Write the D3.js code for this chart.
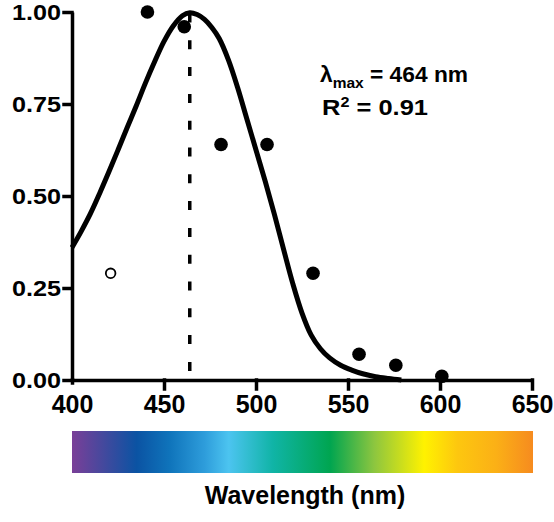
<!DOCTYPE html>
<html>
<head>
<meta charset="utf-8">
<script src="https://cdn.jsdelivr.net/npm/d3@7"></script>
<style>
  body { margin: 0; background: #fff; }
  text { font-family: "Liberation Sans", Arial, Helvetica, sans-serif; font-weight: bold; fill: #000; }
</style>
</head>
<body>
<svg id="chart" width="554" height="522"></svg>
<script>
// ---- data ----
const xTicks = [400, 450, 500, 550, 600, 650];
const yTicks = [0, 0.25, 0.5, 0.75, 1.0];
const yTickLabels = ["0.00", "0.25", "0.50", "0.75", "1.00"];

const pointWavelengths = [441, 461, 481, 506, 531, 556, 576, 601];
const pointValues      = [1.00, 0.96, 0.64, 0.64, 0.29, 0.07, 0.04, 0.01];

const openWavelengths = [421];
const openValues      = [0.29];

const fitWavelengths = [400, 405, 410, 415, 420, 425, 430, 435, 440, 445, 450, 455, 460, 464,
                        468, 472, 476, 480, 485, 490, 495, 500, 505, 510, 515, 520, 525,
                        530, 535, 540, 546, 552, 558, 565, 572, 579];
const fitValues      = [0.36, 0.404, 0.452, 0.507, 0.565, 0.625, 0.686, 0.746, 0.808, 0.866, 0.92, 0.962, 0.99, 0.998,
                        0.993, 0.98, 0.958, 0.928, 0.87, 0.795, 0.71, 0.625, 0.54, 0.45, 0.355, 0.262, 0.182,
                        0.122, 0.085, 0.06, 0.04, 0.027, 0.017, 0.009, 0.004, 0.0];

const lambdaMax = 464;
const rSquared = "0.91";

const spectrumStops  = [400, 435, 453, 472, 485, 509, 540, 564, 591, 609, 630, 650];
const spectrumColors = ["#7a3f98", "#0b53a3", "#0f74bb", "#2e9ddb", "#4cc4f0", "#10b4a6",
                        "#00a550", "#8dc63f", "#fff200", "#fdc70f", "#fbb016", "#f68b1f"];

const xLabel = "Wavelength (nm)";

// ---- chart ----
const svg = d3.select("#chart");
const x = d3.scaleLinear().domain([400, 650]).range([72, 532]);
const y = d3.scaleLinear().domain([0, 1]).range([380, 12]);

// y axis
const yAxis = svg.append("g")
  .attr("transform", `translate(${x(400)},0)`)
  .call(d3.axisLeft(y).tickValues(yTicks).tickFormat((d, i) => yTickLabels[i])
        .tickSize(8).tickSizeOuter(0).tickPadding(3));
yAxis.selectAll("text").attr("font-size", 22).attr("font-family", null)
  .attr("textLength", 49).attr("lengthAdjust", "spacingAndGlyphs");

// x axis
const xAxis = svg.append("g")
  .attr("transform", `translate(0,${y(0)})`)
  .call(d3.axisBottom(x).tickValues(xTicks).tickFormat(d3.format("d"))
        .tickSize(9).tickSizeOuter(0).tickPadding(6));
xAxis.selectAll("text").attr("font-size", 25).attr("font-family", null);
xAxis.selectAll(".tick line").filter(d => d === 400).attr("y2", 3);

svg.selectAll(".domain, .tick line")
  .attr("stroke", "#000").attr("stroke-width", 3.5).attr("stroke-linecap", "square");
svg.selectAll(".domain").attr("stroke-linecap", "butt");

// fitted curve
const fit = fitWavelengths.map((w, i) => [w, fitValues[i]]);
svg.append("path")
  .datum(fit)
  .attr("fill", "none")
  .attr("stroke", "#000")
  .attr("stroke-width", 5)
  .attr("d", d3.line().x(d => x(d[0])).y(d => y(d[1])).curve(d3.curveCatmullRom.alpha(0.5)));

// lambda max dashed line
svg.append("line")
  .attr("x1", x(lambdaMax)).attr("x2", x(lambdaMax))
  .attr("y1", y(1)).attr("y2", y(0))
  .attr("stroke", "#000").attr("stroke-width", 3.5)
  .attr("stroke-dasharray", "9,17.8").attr("stroke-dashoffset", -1.5);

// filled points
svg.append("g").selectAll("circle")
  .data(pointWavelengths.map((w, i) => [w, pointValues[i]]))
  .join("circle")
  .attr("cx", d => x(d[0])).attr("cy", d => y(d[1]))
  .attr("r", 6.8).attr("fill", "#000");

// open points
svg.append("g").selectAll("circle")
  .data(openWavelengths.map((w, i) => [w, openValues[i]]))
  .join("circle")
  .attr("cx", d => x(d[0])).attr("cy", d => y(d[1]))
  .attr("r", 4.8).attr("fill", "#fff").attr("stroke", "#000").attr("stroke-width", 1.8);

// annotation
const ann1 = svg.append("text").attr("x", 320).attr("y", 82).attr("font-size", 22);
ann1.append("tspan").text("λ");
ann1.append("tspan").attr("font-size", 15).attr("dy", 6).text("max");
ann1.append("tspan").attr("dy", -6).text(` = ${lambdaMax} nm`);
ann1.attr("textLength", 148).attr("lengthAdjust", "spacingAndGlyphs");

const ann2 = svg.append("text").attr("x", 322).attr("y", 115).attr("font-size", 22);
ann2.append("tspan").text("R");
ann2.append("tspan").attr("font-size", 14).attr("dy", -8).text("2");
ann2.append("tspan").attr("dy", 8).text(` = ${rSquared}`);
ann2.attr("textLength", 106).attr("lengthAdjust", "spacingAndGlyphs");

// spectrum bar
const defs = svg.append("defs");
const grad = defs.append("linearGradient").attr("id", "spectrum")
  .attr("x1", "0%").attr("x2", "100%").attr("y1", "0%").attr("y2", "0%");
grad.selectAll("stop")
  .data(spectrumStops.map((w, i) => [w, spectrumColors[i]]))
  .join("stop")
  .attr("offset", d => ((d[0] - 400) / 250 * 100) + "%")
  .attr("stop-color", d => d[1]);
svg.append("rect")
  .attr("x", x(400)).attr("y", 431)
  .attr("width", x(650) - x(400) + 1).attr("height", 42)
  .attr("fill", "url(#spectrum)");

// x label
svg.append("text")
  .attr("x", 305).attr("y", 504)
  .attr("text-anchor", "middle")
  .attr("font-size", 25)
  .text(xLabel);
</script>
</body>
</html>
